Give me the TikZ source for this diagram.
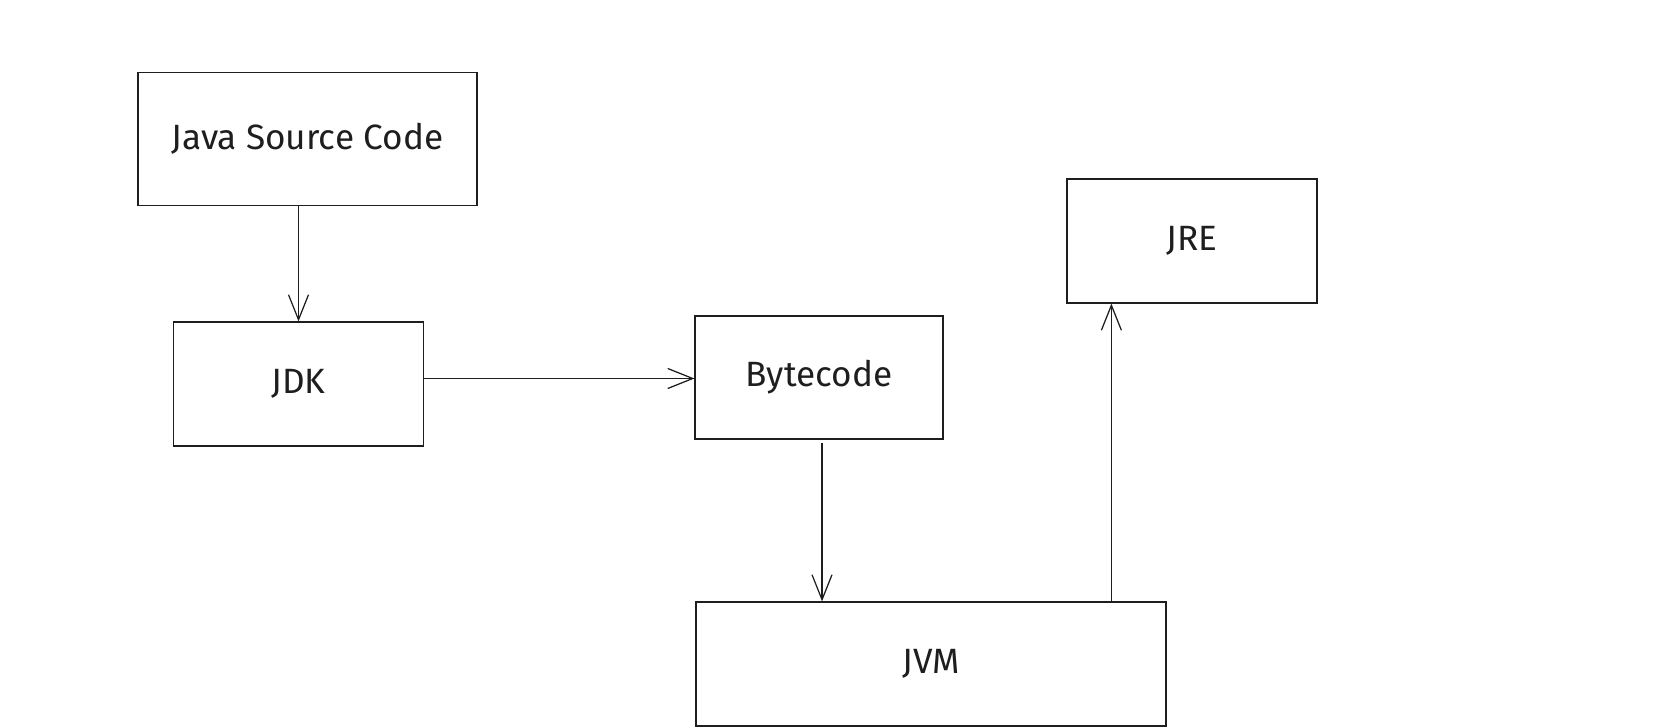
\documentclass[tikz,border=0pt]{standalone}
\usepackage{fontspec}
\setmainfont{Fira Sans}
\usepackage{tikz}
\usetikzlibrary{arrows.meta, positioning, calc}
\definecolor{inkline}{HTML}{1E1E1E}

\begin{document}
\begin{tikzpicture}[
    every node/.style={font=\fontsize{20}{24}\selectfont, text=inkline},
    box node/.style={rectangle, draw=inkline, line width=0.7pt, inner sep=0pt},
    flow arrow/.style={draw=inkline, line width=0.7pt, -{Straight Barb[length=5mm, width=4mm]}}
]
\useasboundingbox (0,0) rectangle (33.28,-14.56);
% Source side
\node[box node, minimum width=6.78cm, minimum height=2.65cm] (Source) at (6.15,-2.78) {Java Source Code};
\node[box node, minimum width=5.0cm, minimum height=2.48cm] (JDK) at (5.97,-7.68) {JDK};
\node[box node, minimum width=4.96cm, minimum height=2.46cm] (Bytecode) at (16.38,-7.55) {Bytecode};
% Runtime side
\node[box node, minimum width=9.40cm, minimum height=2.48cm] (JVM) at (18.62,-13.28) {JVM};
\node[box node, minimum width=5.0cm, minimum height=2.48cm] (JRE) at (23.84,-4.82) {JRE};
\coordinate (JRE_in) at ([xshift=0.9cm]JRE.south west);
% Connectors
\draw[flow arrow] (JDK.north |- Source.south) -- (JDK.north);
\draw[flow arrow] (JDK.east |- 0,-7.57) -- (Bytecode.west |- 0,-7.57);
\draw[flow arrow, shorten <=2pt] ([xshift=0.06cm]Bytecode.south) -- ([xshift=0.06cm]Bytecode.south |- JVM.north);
\draw[flow arrow] (JRE_in |- JVM.north) -- (JRE_in);
\end{tikzpicture}
\end{document}
